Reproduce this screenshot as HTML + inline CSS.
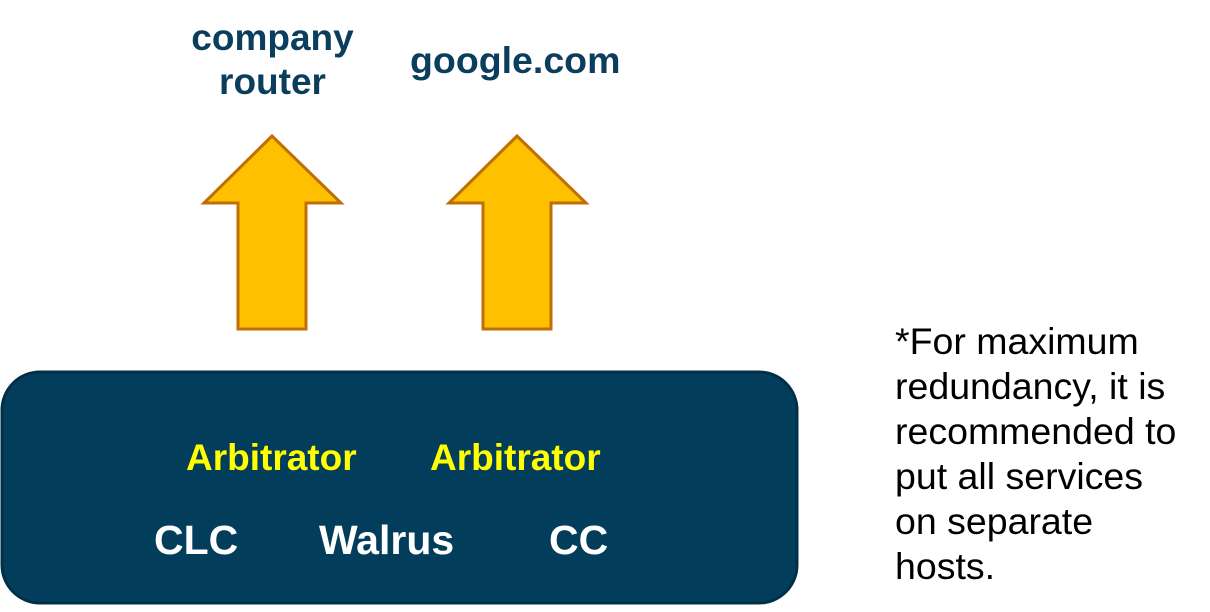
<!DOCTYPE html>
<html><head><style>
body{margin:0;width:1210px;height:612px;background:#fff;position:relative;overflow:hidden;font-family:"Liberation Sans",sans-serif}
.t{position:absolute;white-space:nowrap;font-weight:bold}
</style></head><body>
<svg width="1210" height="612" style="position:absolute;left:0;top:0">
<polygon points="272,136 341,203 306,203 306,329 238,329 238,203 204,203" fill="#ffc000" stroke="#c06f08" stroke-width="3"/>
<polygon points="517,136 586,203 551,203 551,329 483,329 483,203 449,203" fill="#ffc000" stroke="#c06f08" stroke-width="3"/>
<rect x="2" y="372" width="795" height="231" rx="38" fill="#033d5c" stroke="#022f48" stroke-width="3"/>
</svg>
<div class="t" style="left:170px;top:16px;width:205px;text-align:center;font-size:37px;line-height:44px;color:#0b3d5c">company<br>router</div>
<div class="t" style="left:410px;top:39px;font-size:37.5px;line-height:42px;color:#0b3d5c">google.com</div>
<div class="t" style="left:186px;top:437px;font-size:37px;line-height:42px;color:#ffff00">Arbitrator</div>
<div class="t" style="left:430px;top:437px;font-size:37px;line-height:42px;color:#ffff00">Arbitrator</div>
<div class="t" style="left:154px;top:517px;font-size:41px;line-height:46px;color:#fff">CLC</div>
<div class="t" style="left:319px;top:517px;font-size:41px;line-height:46px;color:#fff">Walrus</div>
<div class="t" style="left:549px;top:517px;font-size:41px;line-height:46px;color:#fff">CC</div>
<div class="t" style="left:895px;top:319px;font-weight:normal;font-size:37.5px;line-height:45px;color:#000">*For maximum<br>redundancy, it is<br>recommended to<br>put all services<br>on separate<br>hosts.</div>
</body></html>
